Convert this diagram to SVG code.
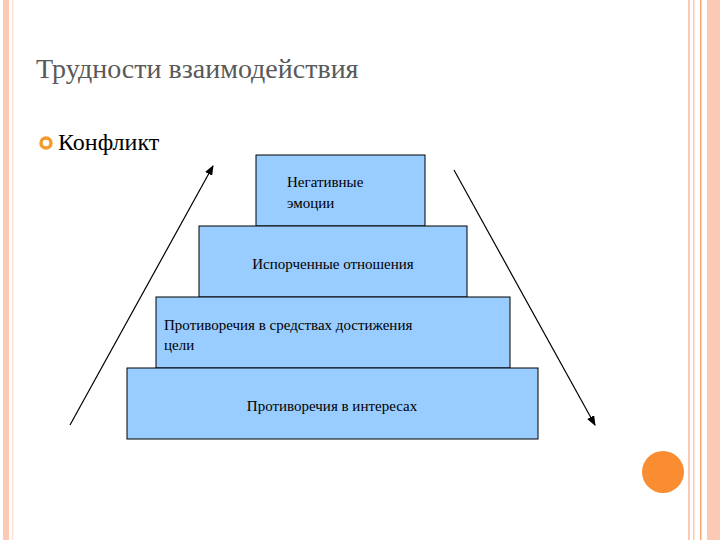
<svg xmlns="http://www.w3.org/2000/svg" width="720" height="540" viewBox="0 0 720 540">
<style>
.box{fill:#99CCFF;stroke:#000;stroke-width:1}
.t{font-family:"Liberation Serif",serif;font-size:15px;fill:#000}
.ln{stroke:#000;stroke-width:1.2;fill:none}
</style>
<defs><marker id="a" markerWidth="10" markerHeight="8" refX="9" refY="4" orient="auto" markerUnits="userSpaceOnUse"><path d="M0,0 L10,4 L0,8 z" fill="#000"/></marker></defs>
<rect width="720" height="540" fill="#fff"/>
<rect x="3" y="0" width="6" height="540" fill="#FBC9B4"/>
<rect x="12" y="0" width="1.5" height="540" fill="#FDE3D6"/>
<rect x="688" y="0" width="2" height="540" fill="#FBC9B4"/>
<rect x="693" y="0" width="1.5" height="540" fill="#FBC9B4"/>
<rect x="700" y="0" width="1.5" height="540" fill="#F9A86E"/>
<rect x="707" y="0" width="13" height="540" fill="#FBC9B4"/>
<circle id="dot" cx="663" cy="472" r="21" fill="#FA8C32"/>
<text x="36" y="78" font-family="Liberation Serif,serif" font-size="28" fill="#595959">Трудности взаимодействия</text>
<circle cx="46" cy="143" r="5" fill="none" stroke="#F49B2C" stroke-width="3.5"/>
<text x="58" y="150" font-family="Liberation Serif,serif" font-size="24" fill="#000">Конфликт</text>
<g id="n1"><rect class="box" x="256" y="155" width="169" height="71"/><text class="t" x="287" y="187">Негативные</text><text class="t" x="287" y="208">эмоции</text></g>
<g id="n2"><rect class="box" x="199" y="226" width="268" height="71"/><text class="t" x="333" y="269" text-anchor="middle">Испорченные отношения</text></g>
<g id="n3"><rect class="box" x="156" y="297" width="354" height="71"/><text class="t" x="164" y="330">Противоречия в средствах достижения</text><text class="t" x="164" y="350">цели</text></g>
<g id="n4"><rect class="box" x="127" y="368" width="411" height="71"/><text class="t" x="332" y="411" text-anchor="middle">Противоречия в интересах</text></g>
<g id="connectors">
<line class="ln" x1="70" y1="425" x2="213" y2="166" marker-end="url(#a)"/>
<line class="ln" x1="454" y1="170" x2="595" y2="425" marker-end="url(#a)"/>
</g>
</svg>
